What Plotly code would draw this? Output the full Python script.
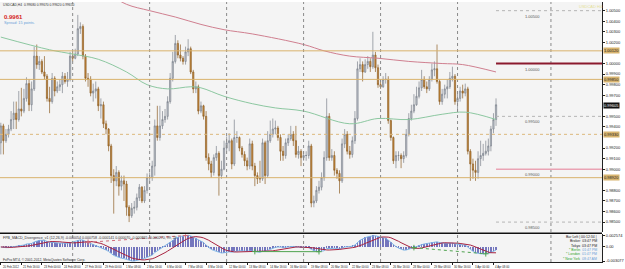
import plotly.graph_objects as go
import pandas as pd

# ---------------- data ----------------
FIRST_BAR = 2          # index of first visible H4 bar (bar 0 = 20 Feb 2012 00:00)
FIRST_OPEN = 0.9925

CLOSE = [
    0.9941, 0.9927, 0.9933, 0.9938, 0.9947, 0.9953, 0.9947, 0.9957, 0.9955, 0.9967,
    0.9981, 0.9961, 0.9976, 1.0007, 0.9999, 1.0002, 0.9992, 0.9988, 0.9967, 0.9964,
    0.9986, 0.9974, 0.9978, 0.9980, 0.9988, 0.9983, 0.9985, 1.0007, 1.0005, 1.0009,
    1.0033, 1.0035, 1.0007, 0.9986, 0.9985, 0.9972, 0.9974, 0.9976, 0.9960, 0.9961,
    0.9943, 0.9938, 0.9922, 0.9894, 0.9889, 0.9897, 0.9884, 0.9889, 0.9886, 0.9864,
    0.9856, 0.9863, 0.9864, 0.9873, 0.9883, 0.9870, 0.9880, 0.9892, 0.9892, 0.9903,
    0.9941, 0.9930, 0.9941, 0.9947, 0.9950, 0.9964, 0.9986, 1.0002, 1.0019, 1.0008,
    1.0005, 1.0002, 1.0011, 1.0014, 0.9992, 0.9976, 0.9978, 0.9955, 0.9960, 0.9950,
    0.9911, 0.9905, 0.9897, 0.9911, 0.9915, 0.9894, 0.9900, 0.9920, 0.9925, 0.9927,
    0.9905, 0.9930, 0.9930, 0.9920, 0.9914, 0.9908, 0.9903, 0.9924, 0.9903, 0.9894,
    0.9891, 0.9891, 0.9925, 0.9894, 0.9927, 0.9933, 0.9938, 0.9939, 0.9930, 0.9917,
    0.9913, 0.9925, 0.9929, 0.9933, 0.9927, 0.9914, 0.9917, 0.9911, 0.9913, 0.9913,
    0.9922, 0.9868, 0.9870, 0.9880, 0.9883, 0.9892, 0.9911, 0.9950, 0.9911, 0.9913,
    0.9899, 0.9896, 0.9889, 0.9924, 0.9933, 0.9917, 0.9914, 0.9927, 0.9948, 0.9995,
    0.9999, 0.9992, 0.9999, 1.0002, 0.9997, 1.0008, 0.9996, 0.9980, 0.9978, 0.9985,
    0.9985, 0.9946, 0.9930, 0.9908, 0.9913, 0.9913, 0.9910, 0.9913, 0.9933, 0.9948,
    0.9955, 0.9961, 0.9969, 0.9977, 0.9985, 0.9978, 0.9976, 0.9985, 0.9994, 0.9995,
    0.9983, 0.9964, 0.9971, 0.9976, 0.9978, 0.9986, 0.9988, 0.9964, 0.9967, 0.9974,
    0.9972, 0.9976, 0.9917, 0.9905, 0.9899, 0.9897, 0.9910, 0.9913, 0.9915, 0.9917,
    0.9922, 0.9938, 0.9947, 0.9961]

HIGH = [
    0.9944, 0.9943, 0.9938, 0.9942, 0.9955, 0.9964, 0.9964, 0.9974, 0.9977, 0.9976,
    0.9987, 0.9985, 0.9983, 1.0016, 1.0018, 1.0007, 1.0004, 1.0007, 0.9990, 0.9978,
    0.9991, 0.9988, 0.9983, 0.9985, 0.9992, 0.9991, 0.9992, 1.0011, 1.0011, 1.0014,
    1.0046, 1.0039, 1.0037, 1.0009, 0.9991, 0.9988, 0.9981, 0.9983, 0.9978, 0.9967,
    0.9964, 0.9946, 0.9939, 0.9924, 0.9900, 0.9903, 0.9899, 0.9894, 0.9894, 0.9889,
    0.9866, 0.9868, 0.9870, 0.9877, 0.9886, 0.9884, 0.9884, 0.9896, 0.9897, 0.9908,
    0.9947, 0.9960, 0.9960, 0.9955, 0.9957, 0.9969, 0.9991, 1.0011, 1.0027, 1.0022,
    1.0018, 1.0007, 1.0016, 1.0023, 1.0016, 0.9994, 0.9983, 0.9980, 0.9964, 0.9961,
    0.9955, 0.9915, 0.9908, 0.9914, 0.9922, 0.9917, 0.9908, 0.9927, 0.9931, 0.9934,
    0.9929, 0.9947, 0.9936, 0.9931, 0.9922, 0.9917, 0.9911, 0.9929, 0.9927, 0.9906,
    0.9897, 0.9908, 0.9929, 0.9927, 0.9936, 0.9946, 0.9948, 0.9946, 0.9941, 0.9933,
    0.9922, 0.9929, 0.9933, 0.9941, 0.9936, 0.9941, 0.9922, 0.9919, 0.9917, 0.9917,
    0.9927, 0.9924, 0.9875, 0.9884, 0.9889, 0.9897, 0.9917, 0.9967, 0.9953, 0.9919,
    0.9917, 0.9901, 0.9899, 0.9929, 0.9938, 0.9936, 0.9922, 0.9931, 0.9955, 1.0002,
    1.0005, 1.0002, 1.0004, 1.0007, 1.0005, 1.0030, 1.0011, 0.9999, 0.9985, 0.9988,
    0.9991, 0.9988, 0.9947, 0.9931, 0.9917, 0.9917, 0.9915, 0.9917, 0.9938, 0.9953,
    0.9961, 0.9971, 0.9978, 0.9983, 0.9994, 0.9988, 0.9983, 0.9988, 1.0000, 1.0002,
    1.0018, 0.9985, 0.9976, 0.9980, 0.9985, 0.9992, 0.9997, 0.9990, 0.9974, 0.9978,
    0.9980, 0.9981, 0.9978, 0.9919, 0.9910, 0.9908, 0.9917, 0.9927, 0.9924, 0.9927,
    0.9929, 0.9941, 0.9953, 0.9967]

LOW = [
    0.9914, 0.9914, 0.9925, 0.9930, 0.9936, 0.9938, 0.9938, 0.9945, 0.9950, 0.9953,
    0.9964, 0.9955, 0.9955, 0.9974, 0.9995, 0.9994, 0.9990, 0.9985, 0.9964, 0.9953,
    0.9962, 0.9969, 0.9972, 0.9974, 0.9972, 0.9981, 0.9978, 0.9983, 1.0002, 1.0004,
    1.0007, 1.0028, 1.0004, 0.9983, 0.9978, 0.9969, 0.9964, 0.9967, 0.9955, 0.9948,
    0.9939, 0.9933, 0.9917, 0.9887, 0.9858, 0.9884, 0.9875, 0.9880, 0.9870, 0.9856,
    0.9850, 0.9854, 0.9858, 0.9861, 0.9870, 0.9868, 0.9868, 0.9877, 0.9887, 0.9889,
    0.9894, 0.9927, 0.9927, 0.9938, 0.9944, 0.9947, 0.9962, 0.9983, 1.0000, 1.0005,
    1.0002, 0.9999, 0.9999, 1.0007, 0.9990, 0.9972, 0.9972, 0.9952, 0.9953, 0.9947,
    0.9908, 0.9899, 0.9892, 0.9894, 0.9908, 0.9875, 0.9891, 0.9899, 0.9917, 0.9917,
    0.9900, 0.9903, 0.9925, 0.9917, 0.9911, 0.9903, 0.9899, 0.9900, 0.9899, 0.9884,
    0.9886, 0.9887, 0.9889, 0.9886, 0.9892, 0.9925, 0.9930, 0.9933, 0.9927, 0.9908,
    0.9908, 0.9910, 0.9922, 0.9927, 0.9922, 0.9911, 0.9910, 0.9903, 0.9908, 0.9908,
    0.9910, 0.9864, 0.9864, 0.9868, 0.9877, 0.9880, 0.9889, 0.9908, 0.9908, 0.9908,
    0.9894, 0.9891, 0.9877, 0.9887, 0.9920, 0.9914, 0.9910, 0.9911, 0.9924, 0.9946,
    0.9992, 0.9983, 0.9991, 0.9995, 0.9992, 0.9995, 0.9992, 0.9977, 0.9976, 0.9977,
    0.9981, 0.9943, 0.9927, 0.9905, 0.9901, 0.9908, 0.9901, 0.9906, 0.9911, 0.9931,
    0.9946, 0.9953, 0.9960, 0.9967, 0.9974, 0.9976, 0.9972, 0.9974, 0.9983, 0.9988,
    0.9981, 0.9961, 0.9961, 0.9967, 0.9967, 0.9976, 0.9983, 0.9961, 0.9955, 0.9964,
    0.9967, 0.9969, 0.9914, 0.9889, 0.9891, 0.9889, 0.9891, 0.9903, 0.9908, 0.9913,
    0.9913, 0.9917, 0.9934, 0.9941]

TICK_LABELS = [
    "20 Feb 2012", "21 Feb 16:00", "23 Feb 00:00", "24 Feb 08:00", "27 Feb 16:00",
    "29 Feb 00:00", "1 Mar 08:00", "2 Mar 16:00", "6 Mar 00:00", "7 Mar 08:00",
    "8 Mar 16:00", "12 Mar 00:00", "13 Mar 08:00", "14 Mar 16:00", "16 Mar 00:00",
    "19 Mar 08:00", "20 Mar 16:00", "22 Mar 00:00", "23 Mar 08:00", "26 Mar 16:00",
    "28 Mar 00:00", "29 Mar 08:00", "30 Mar 16:00", "3 Apr 00:00", "4 Apr 08:00"]
TICK_STEP = 8   # one label every 8 H4 bars

PRICE_TICKS = [0.9850, 0.9860, 0.9870, 0.9880, 0.9900, 0.9910, 0.9920, 0.9940, 0.9950,
               0.9970, 0.9980, 0.9990, 1.0000, 1.0020, 1.0030, 1.0040, 1.0050]

# moving averages (read as points along the drawn curves)
MA_FAST_BARS = [2, 21, 30, 40, 51, 59, 67, 76, 80, 89, 100, 109, 120, 138, 149, 161, 174, 183, 195]
MA_FAST_VALS = [1.0025, 1.0013, 1.0009, 1.0004, 0.9992, 0.9980, 0.9976, 0.9978, 0.9977, 0.9969,
                0.9962, 0.9958, 0.9955, 0.9943, 0.9948, 0.9947, 0.9952, 0.9954, 0.9947]
MA_SLOW_BARS = [44, 51, 60, 70, 80, 89, 100, 120, 128, 138, 149, 161, 174, 182, 195]
MA_SLOW_VALS = [1.0066, 1.0056, 1.0050, 1.0044, 1.0037, 1.0032, 1.0028, 1.0018, 1.0012, 1.0007,
                1.0005, 1.0002, 1.0000, 0.9999, 0.9992]

SR_SOLID = [1.0012, 0.9985, 0.9892]
SR_DOTTED = [0.9933]
ROUND_LEVELS = [1.0050, 1.0000, 0.9950, 0.9900, 0.9850]
BID = 0.99605
WEEK_STARTS = [30, 60, 90, 120, 150, 180]
EXTRA_SEPARATOR = 216.4
DIV_BEAR = (36, 74)
DIV_BULL = (101, 126)
DIV_BULL2 = (163, 191)

# ---------------- derived ----------------
n = len(CLOSE)
bars = list(range(FIRST_BAR, FIRST_BAR + n))
opens = [FIRST_OPEN] + CLOSE[:-1]

cs = pd.Series(CLOSE)
macd = cs.ewm(span=12, adjust=False).mean() - cs.ewm(span=26, adjust=False).mean()
signal = macd.rolling(9, min_periods=1).mean()

W, H = 625, 269
ML, MR, MT, MB = 0, 12, 0, 7
PH = H - MT - MB            # 262 plot px
PW = W - ML - MR            # 613
XR = [1.68, 236.3]
YR = [0.98404, 1.00582]

def py(ypix):               # pixel row -> paper fraction
    return 1 - ypix / PH

def px(xpix):
    return xpix / PW

lo, hi = float(macd.min()), float(macd.max())
u = (hi - lo) / 26.0
MR_RANGE = [lo - u, hi + u]

FONT = "Liberation Sans"
fig = go.Figure()

fig.add_trace(go.Candlestick(
    x=bars, open=opens, high=HIGH, low=LOW, close=CLOSE, xaxis="x2", yaxis="y",
    increasing=dict(line=dict(color="#7d838c", width=0.7), fillcolor="#c4c9d0"),
    decreasing=dict(line=dict(color="#8e5f25", width=0.7), fillcolor="#c98a3a"),
    whiskerwidth=0, showlegend=False, hoverinfo="skip"))

fig.add_trace(go.Scatter(x=MA_FAST_BARS, y=MA_FAST_VALS, mode="lines", xaxis="x2", yaxis="y",
                         line=dict(color="#8cc7a0", width=1, shape="spline"), showlegend=False))
fig.add_trace(go.Scatter(x=MA_SLOW_BARS, y=MA_SLOW_VALS, mode="lines", xaxis="x2", yaxis="y",
                         line=dict(color="#cf7f8f", width=1, shape="spline"), showlegend=False))

# MACD panel
fig.add_trace(go.Bar(x=bars, y=macd, xaxis="x", yaxis="y2", width=0.25,
                     marker=dict(color="#7476bd", line=dict(width=0)), showlegend=False))
fig.add_trace(go.Scatter(x=bars, y=macd, mode="lines", xaxis="x", yaxis="y2",
                         line=dict(color="#7fb5e6", width=1), showlegend=False))
fig.add_trace(go.Scatter(x=bars, y=signal, mode="lines", xaxis="x", yaxis="y2",
                         line=dict(color="#a82340", width=1), showlegend=False))

def div_line(pair, color, dash):
    a, b = pair
    ia, ib = a - FIRST_BAR, b - FIRST_BAR
    fig.add_trace(go.Scatter(x=[a, b], y=[macd[ia], macd[ib]], mode="lines+markers", xaxis="x", yaxis="y2",
                             line=dict(color=color, width=1, dash=dash),
                             marker=dict(symbol="cross-thin", size=4, line=dict(color=color, width=1)),
                             showlegend=False))

div_line(DIV_BEAR, "#d06a7a", "dot")
div_line(DIV_BULL, "#4fa34f", "solid")
div_line(DIV_BULL2, "#4fa34f", "dot")

shapes = []
for wk in WEEK_STARTS + [EXTRA_SEPARATOR]:
    shapes.append(dict(type="line", xref="x", yref="paper", x0=wk, x1=wk, y0=0, y1=1,
                       line=dict(color="#8a8a8a", width=1, dash="dot")))
for v in SR_SOLID:
    shapes.append(dict(type="line", xref="paper", yref="y", x0=0, x1=1, y0=v, y1=v,
                       line=dict(color="#d9b26c", width=1)))
for v in SR_DOTTED:
    shapes.append(dict(type="line", xref="paper", yref="y", x0=0, x1=1, y0=v, y1=v,
                       line=dict(color="#dcb87c", width=1, dash="dot")))
lvl_style = {1.0050: ("#b5b5b5", 1, "dot"), 1.0000: ("#8b1a2e", 2, "solid"),
             0.9950: ("#b5b5b5", 1, "dot"), 0.9900: ("#eaa3b4", 1.5, "solid"),
             0.9850: ("#b5b5b5", 1, "dot")}
for v in ROUND_LEVELS:
    c, w, d = lvl_style[v]
    shapes.append(dict(type="line", xref="x2", yref="y", x0=bars[-1], x1=XR[1], y0=v, y1=v,
                       line=dict(color=c, width=w, dash=d)))
shapes.append(dict(type="line", xref="paper", yref="paper", x0=0, x1=1, y0=py(233), y1=py(233),
                   line=dict(color="#111111", width=1.5)))

ann = []
for k, lab in enumerate(TICK_LABELS):
    ann.append(dict(x=FIRST_BAR + k * TICK_STEP, y=0, xref="x", yref="paper", text=lab,
                    showarrow=False, xanchor="left", yanchor="top", yshift=-1,
                    font=dict(size=2.8, color="#222", family=FONT)))
for v in ROUND_LEVELS:
    ann.append(dict(x=213, y=v, xref="x2", yref="y", text=f"{v:.5f}", showarrow=False,
                    xanchor="right", yanchor="top", yshift=-1,
                    font=dict(size=4, color="#555", family=FONT)))
for v in SR_SOLID + SR_DOTTED:
    ann.append(dict(x=1, y=v, xref="paper", yref="y", text=f"{v:.5f}", showarrow=False,
                    xanchor="left", xshift=1, bgcolor="#d8b46e", borderpad=0,
                    font=dict(size=4, color="#222", family=FONT)))
ann.append(dict(x=1, y=BID, xref="paper", yref="y", text=f"{BID:.5f}", showarrow=False,
                xanchor="left", xshift=1, bgcolor="#111111", borderpad=0,
                font=dict(size=4, color="#ffffff", family=FONT)))

def txt(xp, yp, t, size, color, anchor="left", bold=False):
    if bold:
        t = "<b>" + t + "</b>"
    ann.append(dict(x=px(xp), y=py(yp), xref="paper", yref="paper", text=t, showarrow=False,
                    xanchor=anchor, yanchor="middle", borderpad=0,
                    font=dict(size=size, color=color, family=FONT)))

txt(2, 3, "USDCAD,H4  0.99680 0.99670 0.99620 0.99650", 3.3, "#333")
txt(3, 15, "0.9961", 6, "#d42424", bold=True)
txt(3, 21, "Spread: 15 points.", 3.8, "#6a9fd8")
txt(589, 5, "USDCAD H4", 4, "#e4df96")
txt(2, 237.5, "FPB_MACD_Divergence_v1 (12,26,9) -0.000054 0.000758 -0.000141 0.000070 -0.000865 -0.000270, 99, 23", 3.6, "#333")
txt(2, 260, "FxPro MT4, \u00a9 2001-2012, MetaQuotes Software Corp.", 3.4, "#333")

G, B, K = "#2fa52f", "#6a9fd8", "#222"
clock = [
    (f"<span style='color:{K}'>Bar Left | 00:12:34 |</span>", 236.7),
    (f"<span style='color:{K}'>Broker  03:47 PM</span>", 241.2),
    (f"<span style='color:{K}'>Tokyo  03:47 PM</span>", 245.7),
    (f"<span style='color:{G}'>* Berlin</span>  <span style='color:{B}'>01:47 PM</span>", 250.0),
    (f"<span style='color:{G}'>* London</span>  <span style='color:{B}'>01:47 PM</span>", 254.3),
    (f"<span style='color:{G}'>* New York</span>  <span style='color:{B}'>08:47 AM</span>", 258.7),
]
for t, yp in clock:
    txt(609, yp, t, 3.5, K, anchor="right")

fig.update_layout(
    width=W, height=H, margin=dict(l=ML, r=MR, t=MT, b=MB),
    paper_bgcolor="#ffffff", plot_bgcolor="#f4f4f4", showlegend=False, bargap=0,
    font=dict(family=FONT, size=4, color="#222"),
    xaxis=dict(domain=[0, 1], anchor="y2", range=XR, showgrid=False, zeroline=False,
               showline=True, linecolor="#222", linewidth=1, ticks="outside", ticklen=2,
               tickcolor="#222", tickvals=[FIRST_BAR + k * TICK_STEP for k in range(len(TICK_LABELS))],
               showticklabels=False, rangeslider=dict(visible=False)),
    xaxis2=dict(domain=[0, 1], anchor="y", matches="x", range=XR, showgrid=False, zeroline=False,
                showticklabels=False, showline=False, rangeslider=dict(visible=False)),
    yaxis=dict(domain=[1 - 232 / PH, 1], anchor="x2", side="right", range=YR, showgrid=False,
               zeroline=False, showline=True, linecolor="#222", linewidth=1, ticks="outside",
               ticklen=2, tickcolor="#222", tickvals=PRICE_TICKS,
               tickformat=".5f", tickfont=dict(size=4, color="#222", family=FONT)),
    yaxis2=dict(domain=[0, 28 / PH], anchor="x", side="right", range=MR_RANGE, showgrid=False,
                zeroline=False, showline=True, linecolor="#222", linewidth=1, ticks="outside",
                ticklen=2, tickcolor="#222", tickvals=[hi, 0, lo],
                ticktext=[f"{hi:.6f}", "0.00", f"{lo:.6f}"],
                tickfont=dict(size=4, color="#222", family=FONT)),
    shapes=shapes, annotations=ann,
)

fig.write_html("out.html")
